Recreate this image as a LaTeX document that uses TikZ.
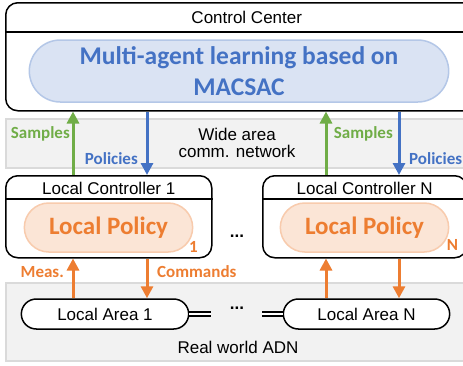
\documentclass[tikz,border=0pt]{standalone}
\usepackage{fontspec}
\setmainfont{Liberation Sans}
\newfontfamily\labelfont{Carlito}
\usetikzlibrary{positioning,arrows.meta,shapes.misc}

\definecolor{macblue}{HTML}{4472C4}
\definecolor{macgreen}{HTML}{70AD47}
\definecolor{macorange}{HTML}{ED7D31}
\definecolor{bluefill}{HTML}{DAE3F3}
\definecolor{blueline}{HTML}{B4C7E7}
\definecolor{orangefill}{HTML}{FBE5D6}
\definecolor{orangeline}{HTML}{F8CBAD}
\definecolor{bandfill}{HTML}{F2F2F2}
\definecolor{bandline}{HTML}{DADADA}

\tikzstyle{frame} = [draw, fill=white, line width=1.5pt, rounded corners=12pt, inner sep=0pt]
\tikzstyle{band} = [draw=bandline, fill=bandfill, line width=1.8pt, inner sep=0pt]
\tikzstyle{title} = [font=\fontsize{17}{18}\selectfont, inner sep=0pt]
\tikzstyle{bluepill} = [rounded rectangle, draw=blueline, fill=bluefill, line width=1.5pt, text=macblue, align=center, font=\labelfont\bfseries\fontsize{25.5}{31}\selectfont]
\tikzstyle{orangepill} = [rounded rectangle, draw=orangeline, fill=orangefill, line width=1.5pt, text=macorange, font=\labelfont\bfseries\fontsize{25}{28}\selectfont]
\tikzstyle{areapill} = [rounded rectangle, draw, fill=white, line width=1.5pt, font=\fontsize{17}{18}\selectfont]
\tikzstyle{tag} = [font=\labelfont\bfseries\fontsize{17}{18}\selectfont, inner sep=0pt]
\tikzstyle{arrow} = [draw, line width=3pt, -{Triangle[width=12pt,length=12pt]}]
\tikzstyle{line} = [draw, line width=1.5pt]
\tikzstyle{link} = [draw, line width=2.6pt, double=white, double distance=1.3pt]

\begin{document}
\begin{tikzpicture}[x=1pt, y=-1pt, node distance=1cm, auto]
    \useasboundingbox (0,0) rectangle (463,365);
    \clip (0,0) rectangle (463,365);

    % grey bands
    \node[band, anchor=north west, minimum width=480pt, minimum height=49pt] (wan) at (5,118) {};
    \node[band, anchor=north west, minimum width=480pt, minimum height=78pt] (adn) at (5,282) {};
    \node[title, align=center] (wantext) at (237,143) {Wide area\\[-0.5pt]comm. network};
    \node[title] (adntext) at (238,347) {Real world ADN};

    % control center
    \node[frame, anchor=north west, minimum width=482pt, minimum height=108pt] (cc) at (5,2) {};
    \node[title] (cctitle) at ([yshift=-15pt]cc.north) {Control Center};
    \draw[line] (cc.west |- 0,32) -- (cc.east |- 0,32);
    \node[bluepill, minimum width=426pt, minimum height=62pt] (marl) at (239,71) {Multi-agent learning based on\\MACSAC};

    % local controllers
    \node[frame, anchor=north west, minimum width=206pt, minimum height=82pt] (lc1) at (5,175) {};
    \node[frame, anchor=north west, minimum width=204pt, minimum height=82pt] (lcn) at (262,175) {};
    \node[title] (lc1title) at ([yshift=-13pt]lc1.north) {Local Controller 1};
    \node[title] (lcntitle) at ([yshift=-13pt]lcn.north) {Local Controller N};
    \draw[line] (lc1.west |- 0,199) -- (lc1.east |- 0,199);
    \draw[line] (lcn.west |- 0,199) -- (lcn.east |- 0,199);
    \node[orangepill, minimum width=175pt, minimum height=49pt] (pol1) at (108.5,227.5) {Local Policy};
    \node[orangepill, minimum width=175pt, minimum height=49pt] (poln) at (364.5,227.5) {Local Policy};
    \node[tag, text=macorange] (sub1) at ([yshift=6pt]pol1.east |- pol1.south) {1};
    \node[tag, text=macorange] (subn) at ([xshift=3pt, yshift=8pt]poln.east |- poln.south) {N};
    \node[title, font=\bfseries\fontsize{17}{18}\selectfont, anchor=base] (lcdots) at (237,237) {...};

    % local areas
    \node[areapill, minimum width=174pt, minimum height=30pt] (la1) at (105,314) {Local Area 1};
    \node[areapill, minimum width=173pt, minimum height=30pt] (lan) at (366.5,314) {Local Area N};
    \coordinate (l1) at (211,314);
    \coordinate (ln) at (262,314);
    \draw[link] (la1.east) -- (l1);
    \draw[link] (ln) -- (lan.west);
    \node[title, font=\bfseries\fontsize{17}{18}\selectfont, anchor=base] (ladots) at (237,309) {...};

    % arrow columns
    \coordinate (c1) at (73,0);
    \coordinate (c2) at (147,0);
    \coordinate (c3) at (326,0);
    \coordinate (c4) at (399,0);

    % lines
    \draw[arrow, macgreen] (lc1.north -| c1) to (cc.south -| c1);
    \draw[arrow, macblue] (cc.south -| c2) to (lc1.north -| c2);
    \draw[arrow, macgreen] (lcn.north -| c3) to (cc.south -| c3);
    \draw[arrow, macblue] (cc.south -| c4) to (lcn.north -| c4);
    \draw[arrow, macorange] (la1.north -| c1) to (lc1.south -| c1);
    \draw[arrow, macorange] (lc1.south -| c2) to (la1.north -| c2);
    \draw[arrow, macorange] (lan.north -| c3) to (lcn.south -| c3);
    \draw[arrow, macorange] (lcn.south -| c4) to (lan.north -| c4);

    % arrow labels
    \node[tag, text=macgreen, anchor=east] (smp1) at (70,134) {Samples};
    \node[tag, text=macblue, anchor=east] (pol1lbl) at (138,159) {Policies};
    \node[tag, text=macgreen, anchor=east] (smpn) at (393,134) {Samples};
    \node[tag, text=macblue, anchor=west] (polnlbl) at (409,159) {Policies};
    \node[tag, text=macorange, anchor=east] (meas) at (64,272) {Meas.};
    \node[tag, text=macorange, anchor=west] (cmds) at (157,272) {Commands};
\end{tikzpicture}
\end{document}
